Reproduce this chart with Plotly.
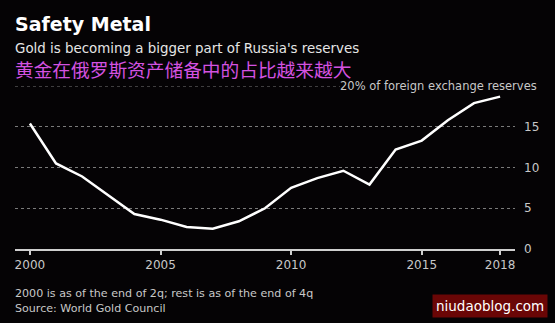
import plotly.graph_objects as go

years = list(range(2000, 2019))
gold_share = [15.4, 10.5, 8.9, 6.6, 4.3, 3.6, 2.7, 2.5, 3.4, 5.0, 7.5, 8.7, 9.6, 7.9, 12.2, 13.3, 15.8, 17.9, 18.7]
x_ticks = [2000, 2005, 2010, 2015, 2018]
y_ticks = [0, 5, 10, 15]

W, H = 555, 323
L, R, T, B = 15, 40, 86, 74
PW, PH = W - L - R, H - T - B

def px(x):
    return (x - L) / PW

def py(y):
    return (H - B - y) / PH

FONT = "DejaVu Sans"

fig = go.Figure()
fig.add_trace(go.Scatter(x=years, y=gold_share, mode="lines",
                         line=dict(color="white", width=2.5), hoverinfo="skip"))

fig.update_layout(
    width=W, height=H,
    margin=dict(l=L, r=R, t=T, b=B),
    paper_bgcolor="#050305", plot_bgcolor="#050305",
    showlegend=False,
    font=dict(family=FONT, color="#bdbdbd", size=12),
    xaxis=dict(range=[1999.43, 2018.57], tickvals=x_ticks, ticktext=[str(v) for v in x_ticks],
               showgrid=False, zeroline=False, showline=True, linecolor="#cfcfcf", linewidth=1.5,
               ticks="outside", ticklen=4, tickcolor="#cfcfcf", tickwidth=1.5,
               tickfont=dict(size=12, color="#c8c8c8"), fixedrange=True),
    yaxis=dict(range=[0, 20], side="right", tickvals=y_ticks, ticktext=[str(v) for v in y_ticks],
               showgrid=True, gridcolor="#7a7a7a", griddash="dot", gridwidth=1,
               zeroline=False, ticks="", ticklabelstandoff=8,
               tickfont=dict(size=12, color="#c8c8c8"), fixedrange=True),
)

fig.add_shape(type="line", xref="paper", yref="y", x0=0, x1=px(340), y0=20, y1=20,
              line=dict(color="#7a7a7a", width=1, dash="dot"))

anns = [
    dict(text="<b>Safety Metal</b>", x=px(13), y=py(24), size=19, color="#ffffff"),
    dict(text="Gold is becoming a bigger part of Russia's reserves", x=px(13), y=py(48), size=13.4, color="#e6e6e6"),
    dict(text="黄金在俄罗斯资产储备中的占比越来越大", x=px(13), y=py(68), size=18.7, color="#d452e0",
         family="Noto Sans CJK SC"),
    dict(text="2000 is as of the end of 2q; rest is as of the end of 4q", x=px(13), y=py(293), size=11.1, color="#c8c8c8"),
    dict(text="Source: World Gold Council", x=px(13), y=py(308), size=11.1, color="#c8c8c8"),
]
for a in anns:
    fig.add_annotation(text=a["text"], xref="paper", yref="paper", x=a["x"], y=a["y"],
                       xanchor="left", yanchor="middle", showarrow=False,
                       font=dict(size=a["size"], color=a["color"], family=a.get("family", FONT)))

fig.add_annotation(text="20% of foreign exchange reserves", xref="paper", yref="y", x=px(539), y=20,
                   xanchor="right", yanchor="middle", showarrow=False,
                   font=dict(size=11.5, color="#c8c8c8", family=FONT))

fig.add_annotation(text="niudaoblog.com", xref="paper", yref="paper", x=px(548), y=py(305.5),
                   xanchor="right", yanchor="middle", showarrow=False, bgcolor="#6a0606",
                   borderpad=3, font=dict(size=13.5, color="#ffffff", family=FONT))

fig.write_html("out.html")
